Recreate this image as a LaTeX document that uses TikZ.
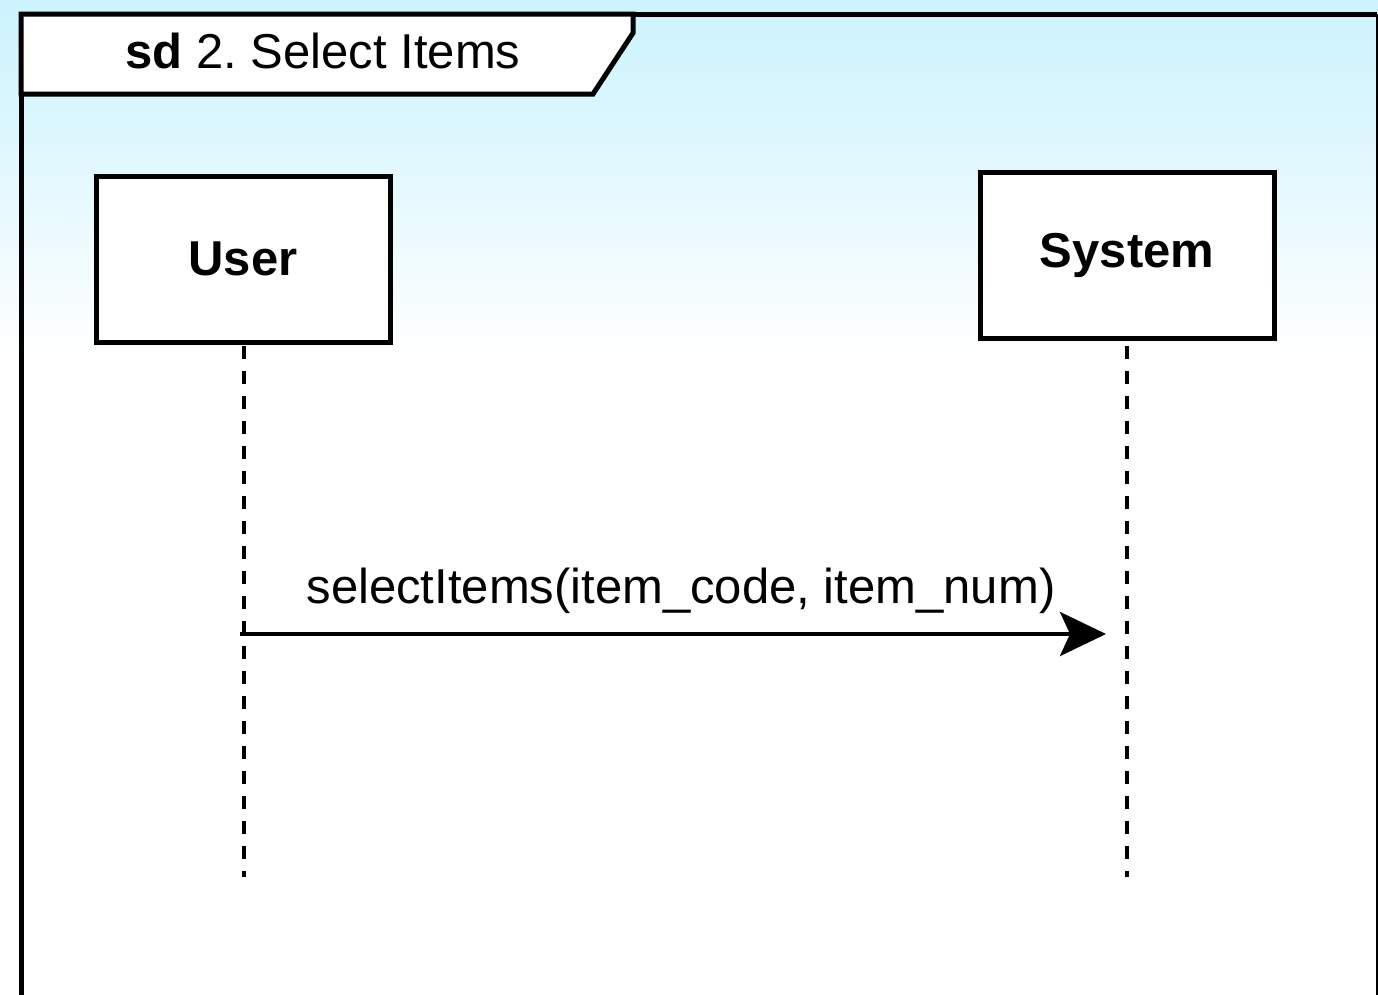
\documentclass[tikz,border=0pt]{standalone}
\usepackage{fontspec}
\setmainfont{Liberation Sans}
\usetikzlibrary{arrows.meta}
\definecolor{skytint}{RGB}{204,243,253}
\pgfdeclareverticalshading{skyfade}{100bp}{color(0bp)=(white); color(57bp)=(white); color(68bp)=(skytint!65!white); color(75bp)=(skytint); color(100bp)=(skytint)}
\newcommand{\bigfont}{\fontsize{49}{58}\selectfont}
\frenchspacing
\begin{document}
\begin{tikzpicture}[x=1pt,y=-1pt,
  lifebox/.style={draw,fill=white,line width=5pt,minimum width=294pt,minimum height=166pt,font=\bigfont\bfseries},
  lifeline/.style={line width=3.5pt,dash pattern=on 13pt off 12pt},
  msg/.style={line width=4pt,-{Stealth[length=46pt,width=44pt,inset=10pt]}}]
  \useasboundingbox (0,0) rectangle (1378,994);
  \clip (0,0) rectangle (1378,994);
  % background
  \shade[shading=skyfade] (0,0) rectangle (1378,994);
  % frame
  \draw[line width=5pt] (21,1000) -- (21,14) -- (1377,14);
  \draw[line width=2pt] (1377,14) -- (1377,1000);
  \draw[line width=5pt,fill=white] (21,14) -- (633,14) -- (633,33) -- (593,94) -- (21,94) -- cycle;
  \node[font=\bigfont,anchor=base] (title) at (323,68) {\textbf{sd} 2. Select Items};
  % lifelines
  \node[lifebox] (user) at (243,259) {User};
  \node[lifebox] (system) at (1127,255) {System};
  \coordinate (userend) at (244,877);
  \coordinate (sysend) at (1127,877);
  \draw[lifeline] (244,346) -- (userend);
  \draw[lifeline] (1127,346) -- (sysend);
  % message
  \coordinate (msgfrom) at (240,634);
  \coordinate (msgto) at (1106,634);
  \draw[msg] (msgfrom) -- (msgto);
  \node[font=\bigfont,anchor=base] (call) at (681,603) {selectItems(item\_code, item\_num)};
\end{tikzpicture}
\end{document}
